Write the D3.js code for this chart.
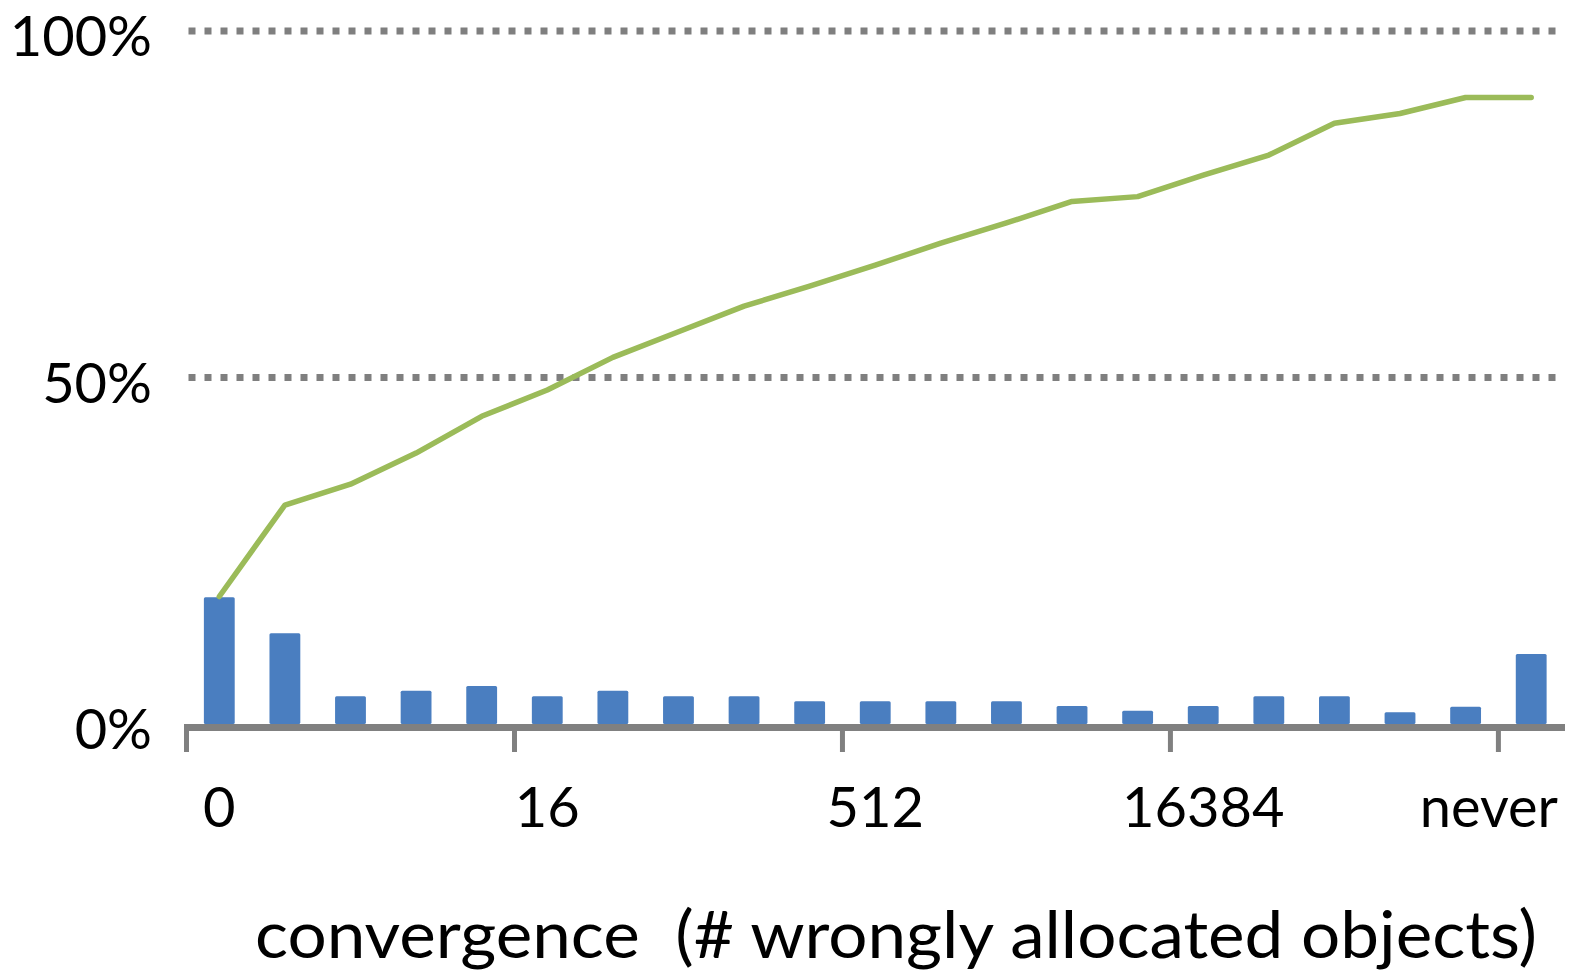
<!DOCTYPE html>
<html>
<head>
    <script src="https://cdnjs.cloudflare.com/ajax/libs/d3/7.8.5/d3.min.js"></script>
    <style>
        body {
            margin: 0;
            background: white;
        }
        svg text {
            font-family: Lato, "Open Sans", sans-serif;
            fill: #000;
        }
    </style>
</head>
<body>
    <svg id="chart" width="1570" height="971"></svg>

    <script>
        // categories on the x axis (# wrongly allocated objects)
        const categories = ["0", "1", "2", "4", "8", "16", "32", "64", "128", "256",
            "512", "1024", "2048", "4096", "8192", "16384", "32768", "65536",
            "131072", "262144", "never"];
        // share of runs per bucket
        const shares = [0.183, 0.131, 0.040, 0.048, 0.055, 0.040, 0.048, 0.040, 0.040, 0.033,
            0.033, 0.033, 0.033, 0.026, 0.019, 0.026, 0.040, 0.040, 0.017, 0.025, 0.101];
        // cumulative share
        const cumulative = [0.184, 0.316, 0.346, 0.391, 0.444, 0.482, 0.529, 0.566, 0.603, 0.632,
            0.662, 0.694, 0.723, 0.754, 0.761, 0.792, 0.821, 0.867, 0.881, 0.904, 0.904];
        const labelledCats = ["0", "16", "512", "16384", "never"];
        const yTicks = [0, 0.5, 1];
        const gridValues = [0.5, 1];
        const axisTitle = "convergence  (# wrongly allocated objects)";

        const width = 1570, height = 971;
        const plot = { left: 186.5, right: 1564, top: 31, bottom: 724 };

        const svg = d3.select("#chart");

        const x = d3.scaleBand()
            .domain(categories)
            .range([plot.left, plot.right])
            .paddingInner(0.53)
            .paddingOuter(0.265);

        const y = d3.scaleLinear()
            .domain([0, 1])
            .range([plot.bottom, plot.top]);

        const g = svg.append("g");

        // dotted gridlines
        g.selectAll(".grid")
            .data(gridValues)
            .enter().append("line")
            .attr("class", "grid")
            .attr("x1", plot.left + 2)
            .attr("x2", plot.right)
            .attr("y1", d => y(d))
            .attr("y2", d => y(d))
            .attr("stroke", "#7f7f7f")
            .attr("stroke-width", 7)
            .attr("stroke-dasharray", "7 9");

        // bars
        g.selectAll(".bar")
            .data(shares)
            .enter().append("rect")
            .attr("class", "bar")
            .attr("x", (d, i) => x(categories[i]))
            .attr("y", d => y(d))
            .attr("width", x.bandwidth())
            .attr("height", d => y(0) - y(d))
            .attr("rx", 1.5)
            .attr("fill", "#4A7EC0");

        // category axis line
        g.append("line")
            .attr("x1", plot.left - 2.5)
            .attr("x2", plot.right + 1)
            .attr("y1", y(0) + 3.5)
            .attr("y2", y(0) + 3.5)
            .attr("stroke", "#808080")
            .attr("stroke-width", 7);

        // tick marks sit on the band boundaries, every 5th category
        const half = x.step() * x.paddingInner() / 2;
        g.selectAll(".xtick")
            .data(labelledCats)
            .enter().append("line")
            .attr("class", "xtick")
            .attr("x1", d => x(d) - half)
            .attr("x2", d => x(d) - half)
            .attr("y1", y(0))
            .attr("y2", y(0) + 28)
            .attr("stroke", "#808080")
            .attr("stroke-width", 5);

        // category labels
        const xl = g.selectAll(".xlabel")
            .data(labelledCats)
            .enter().append("text")
            .attr("class", "xlabel")
            .attr("x", d => x(d) + x.bandwidth() / 2)
            .attr("y", 827)
            .attr("text-anchor", "middle")
            .attr("font-size", 56)
            .text(d => d);
        // keep the last label inside the picture
        xl.each(function() {
            const w = this.getComputedTextLength();
            const cx = +d3.select(this).attr("x");
            if (cx + w / 2 > 1558) d3.select(this).attr("x", 1558 - w / 2);
        });

        // value axis labels
        g.selectAll(".ylabel")
            .data(yTicks)
            .enter().append("text")
            .attr("class", "ylabel")
            .attr("x", 152)
            .attr("y", d => y(d) + 25)
            .attr("text-anchor", "end")
            .attr("font-size", 56)
            .text(d => d3.format(".0%")(d));

        // cumulative line
        const line = d3.line()
            .x((d, i) => x(categories[i]) + x.bandwidth() / 2)
            .y(d => y(d));

        g.append("path")
            .datum(cumulative)
            .attr("d", line)
            .attr("fill", "none")
            .attr("stroke", "#9BBB59")
            .attr("stroke-width", 5.5)
            .attr("stroke-linejoin", "round")
            .attr("stroke-linecap", "round");

        // axis title (two spaces kept before the bracket)
        g.append("text")
            .attr("x", 255)
            .attr("y", 958)
            .attr("font-size", 66)
            .style("white-space", "pre")
            .attr("textLength", 1282)
            .attr("lengthAdjust", "spacingAndGlyphs")
            .text(axisTitle);
    </script>
</body>
</html>
